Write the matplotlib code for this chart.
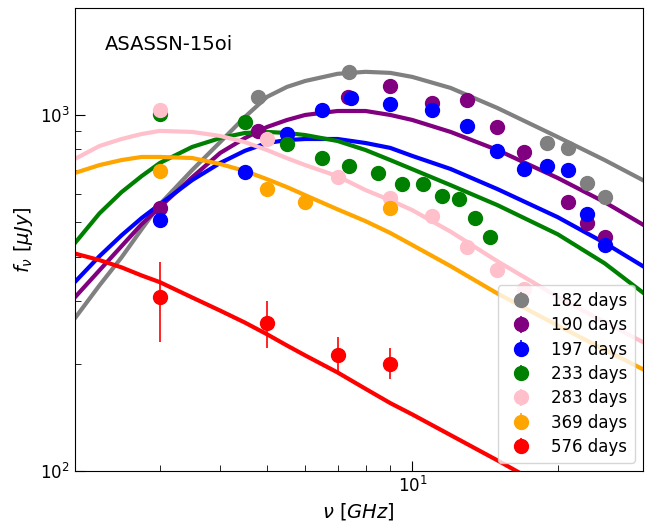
import numpy as np
import matplotlib
matplotlib.use("Agg")
import matplotlib.pyplot as plt
from matplotlib.ticker import NullFormatter

labels = ["182 days", "190 days", "197 days", "233 days", "283 days", "369 days", "576 days"]
colors = ["gray", "purple", "blue", "green", "pink", "orange", "red"]

nu_182 = [4.8, 7.4, 19, 21, 23, 25]
f_182 = [1120, 1322, 834, 807, 643, 588]

nu_190 = [3, 4.8, 7.35, 9, 11, 13, 15, 17, 21, 23, 25]
f_190 = [547, 902, 1124, 1207, 1081, 1102, 925, 787, 569, 496, 453]

nu_197 = [3, 4.5, 5.5, 6.5, 7.45, 9, 11, 13, 15, 17, 19, 21, 23, 25]
f_197 = [506, 691, 884, 1033, 1117, 1074, 1033, 931, 792, 705, 718, 700, 526, 431]

nu_233 = [3, 4.5, 5.5, 6.5, 7.4, 8.5, 9.5, 10.5, 11.5, 12.5, 13.5, 14.5]
f_233 = [1006, 956, 828, 757, 718, 687, 640, 640, 592, 580, 513, 453]

nu_283 = [3, 5, 7, 9, 11, 13, 15, 17]
f_283 = [1033, 856, 669, 584, 520, 425, 366, 324]

nu_369 = [3, 5, 6, 9]
f_369 = [696, 619, 569, 547]

nu_576 = [3, 5, 7, 9]
f_576 = [307, 261, 212, 200]
err_lo_576 = [77, 39, 21, 19]
err_hi_576 = [78, 40, 25, 21]

# model curves, sampled from the figure
nu_model = [2, 2.25, 2.5, 2.75, 3, 3.5, 4, 4.5, 5, 5.5, 6, 7, 8, 9, 10, 12, 15, 20, 25, 30]
m_182 = [268, 332, 398, 477, 561, 700, 839, 987, 1124, 1199, 1246, 1305, 1322, 1313,
         1279, 1191, 1046, 867, 747, 656]
m_190 = [307, 366, 428, 493, 551, 668, 782, 861, 925, 968, 1000, 1026, 1026, 1000,
         968, 896, 797, 665, 569, 492]
m_197 = [339, 401, 459, 513, 561, 656, 733, 793, 834, 850, 856, 856, 834, 808,
         767, 705, 619, 516, 437, 376]
m_233 = [436, 529, 607, 673, 733, 813, 861, 890, 896, 890, 878, 845, 797, 747,
         704, 635, 558, 462, 383, 317]
m_283 = [752, 818, 856, 884, 902, 896, 873, 839, 797, 756, 723, 673, 615, 576,
         540, 470, 388, 308, 262, 230]
m_369 = [687, 723, 747, 762, 762, 757, 728, 696, 660, 627, 595, 543, 503, 466,
         431, 376, 315, 256, 219, 193]
m_576 = [408, 391, 373, 354, 339, 307, 282, 261, 242, 225, 211, 189, 170, 155,
         144, 126, 107, 86, 72, 63]

obs = [
    (nu_182, f_182), (nu_190, f_190), (nu_197, f_197), (nu_233, f_233),
    (nu_283, f_283), (nu_369, f_369), (nu_576, f_576),
]
models = [m_182, m_190, m_197, m_233, m_283, m_369, m_576]

fig = plt.figure(figsize=(6.5, 5.22), dpi=100)
ax = fig.add_axes([0.115, 0.098, 0.874, 0.887])

for i, (nu, f) in enumerate(obs):
    f = np.array(f, dtype=float)
    if labels[i] == "576 days":
        yerr = [err_lo_576, err_hi_576]
    else:
        yerr = 0.04 * f
    ax.errorbar(nu, f, yerr=yerr, fmt="o", color=colors[i], ms=10,
                elinewidth=1.2, label=labels[i])
    ax.plot(nu_model, models[i], color=colors[i], lw=3)

ax.set_xscale("log")
ax.set_yscale("log")
ax.set_xlim(2, 30)
ax.set_ylim(100, 2000)
ax.xaxis.set_minor_formatter(NullFormatter())
ax.yaxis.set_minor_formatter(NullFormatter())
ax.tick_params(which="both", direction="in", top=False, right=False, labelsize=12)
ax.tick_params(which="major", length=7)
ax.tick_params(which="minor", length=4)

ax.set_xlabel(r"$\nu\ [GHz]$", fontsize=14)
ax.set_ylabel(r"$f_{\nu}\ [\mu Jy]$", fontsize=14)
ax.text(0.053, 0.92, "ASASSN-15oi", transform=ax.transAxes, fontsize=14,
        va="center", ha="left")
ax.legend(loc="lower right", fontsize=12, labelspacing=0.38)

fig.savefig("out.png", dpi=100)
